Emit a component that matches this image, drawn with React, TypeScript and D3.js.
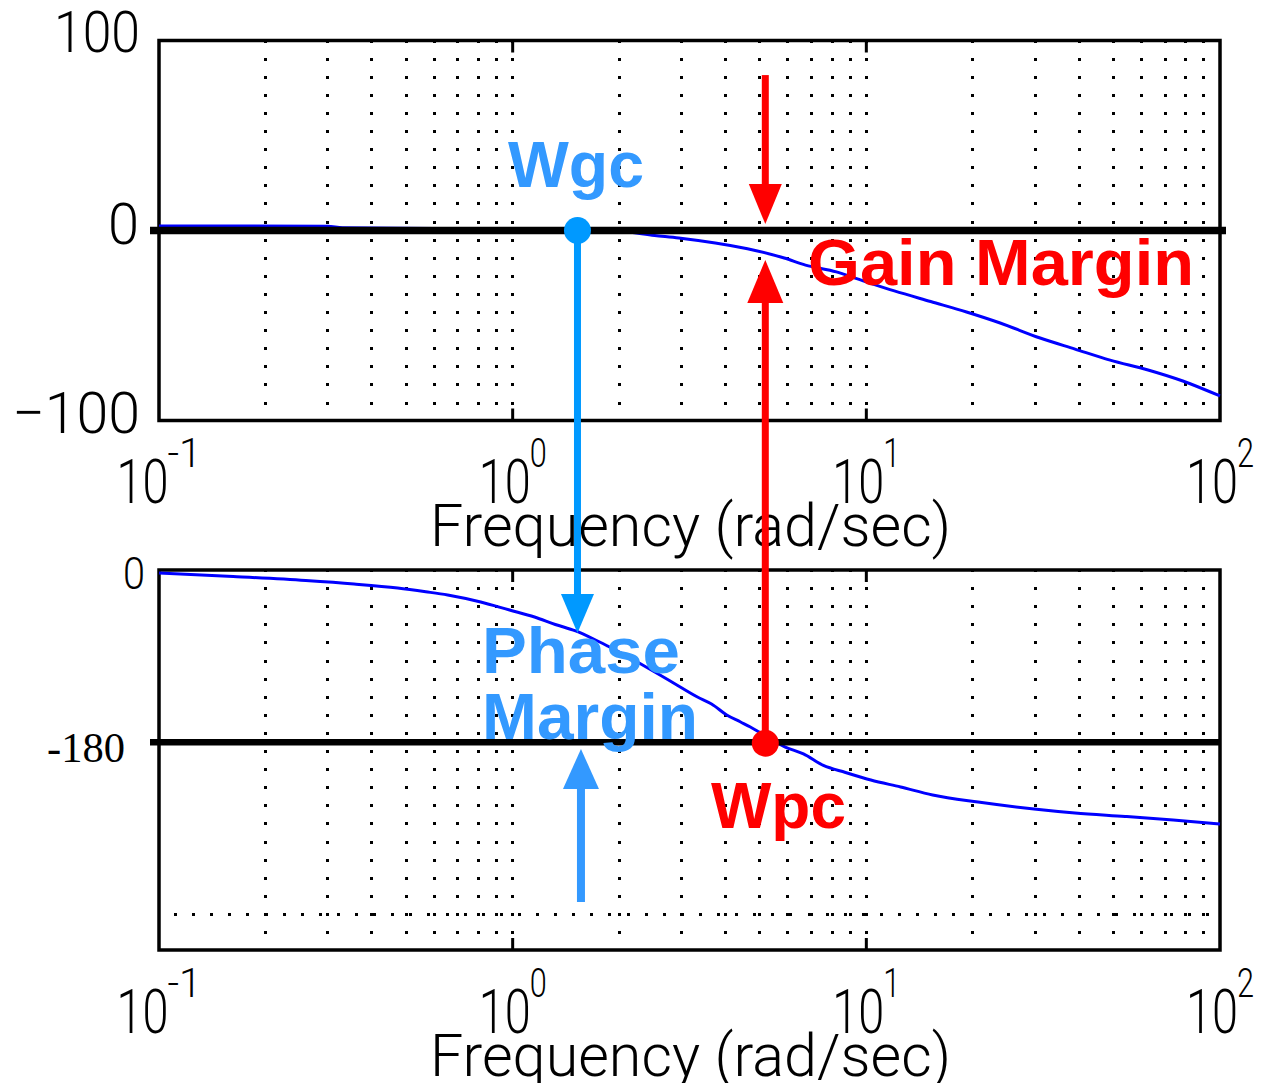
import React from 'react';
import * as d3 from 'd3';

// magnitude (rad/s -> dB)
const magFreq = [0.1, 0.3, 0.33, 0.6, 1.0, 1.53, 2.0, 2.52, 2.95, 3.74, 4.85, 5.86, 6.73, 8.23, 9.44, 12.0, 15.2, 19.2, 23.9, 31.0, 38.9, 48.9, 62.6, 78.5, 100];
const magDb = [2.4, 2.3, 1.4, 1.0, 0.5, 0, -0.4, -2.6, -3.9, -6.6, -10.5, -14.5, -18.2, -21.8, -25.5, -31.8, -37.4, -42.9, -48.7, -56.6, -62.4, -68.2, -73.4, -79.2, -87.1];

// phase (rad/s -> deg)
const phaseFreq = [0.1, 0.162, 0.26, 0.356, 0.473, 0.568, 0.655, 0.812, 0.98, 1.153, 1.32, 1.506, 1.693, 1.855, 2.1, 2.33, 2.58, 2.85, 3.33, 3.65, 4.03, 4.41, 4.7, 4.98, 5.9, 6.64, 7.56, 8.73, 10.3, 12.5, 15.4, 20.7, 29.8, 38.9, 53.9, 73.7, 100];
const phaseDeg = [-3.1, -6.8, -11.0, -14.6, -18.8, -22.7, -26.1, -33.4, -41.8, -49.1, -56.9, -63.7, -72.1, -79.4, -89.8, -99.2, -108.6, -118.0, -132.7, -140.0, -151.5, -158.8, -164.0, -169.3, -185.0, -192.2, -204.2, -211.5, -219.4, -226.7, -235.0, -242.4, -249.7, -253.9, -257.5, -261.2, -265.4];

const decades = [0.1, 1, 10, 100];
const decadeExp = ['-1', '0', '1', '2'];

// annotation values
const wgc = 1.525;          // gain crossover (rad/s)
const wpc = 5.18;           // phase crossover (rad/s)
const gmDownFrom = 81.8;    // dB
const gmDownTip = 3.4;      // dB
const gmUpTip = -15.5;      // dB
const pmDownTip = -65.8;    // deg
const pmUpFreq = 1.56;
const pmUpTip = -187;       // deg
const pmUpTail = -346.9;    // deg
const wpcDotDeg = -181;

const RED = '#ff0000';
const BLUE_DARK = '#0099ff';
const BLUE_LIGHT = '#3399ff';
const SANS = '"Liberation Sans", Arial, Helvetica, sans-serif';
const THIN = 'Roboto, "Liberation Sans", Arial, sans-serif';

const x = d3.scaleLog().domain([0.1, 100]).range([159, 1220]);
const yMag = d3.scaleLinear().domain([-100, 100]).range([420.5, 40.5]);
const yPh = d3.scaleLinear().domain([-397, 0]).range([950, 570]);

const gridX: number[] = [];
[0.1, 1, 10].forEach(b => {
  for (let m = 1; m <= 9; m++) {
    const v = m * b;
    if (v > 0.1 + 1e-9) gridX.push(v);
  }
});

function Arrow({ cx, tip, base, tail, width, headW, color }: { cx: number; tip: number; base: number; tail: number; width: number; headW: number; color: string }) {
  return (
    <g>
      <line x1={cx} x2={cx} y1={tail} y2={base} stroke={color} strokeWidth={width} />
      <polygon points={`${cx},${tip} ${cx - headW},${base} ${cx + headW},${base}`} fill={color} />
    </g>
  );
}

function XLabels({ baseline }: { baseline: number }) {
  return (
    <g fontFamily={THIN} fontWeight={300} fill="#000">
      {decades.map((d, i) => {
        const supW = decadeExp[i].length * 17;
        const left = x(d) - (51 + supW) / 2;
        return (
          <text key={d} x={left} y={baseline}>
            <tspan fontSize={61} textLength={52} lengthAdjust="spacingAndGlyphs">10</tspan>
            <tspan x={left + 51} dy={-36} fontSize={40} textLength={supW} lengthAdjust="spacingAndGlyphs">{decadeExp[i]}</tspan>
          </text>
        );
      })}
      <text x={430} y={baseline + 43} fontSize={60} textLength={521} lengthAdjust="spacingAndGlyphs">Frequency (rad/sec)</text>
    </g>
  );
}

export default function App() {
  const magLine = d3.line<number>()
    .x((_, i) => x(magFreq[i]))
    .y(d => yMag(d))
    .curve(d3.curveMonotoneX);
  const phLine = d3.line<number>()
    .x((_, i) => x(phaseFreq[i]))
    .y(d => yPh(d))
    .curve(d3.curveMonotoneX);

  const panels = [
    { top: yMag(100), bottom: yMag(-100) },
    { top: yPh(0), bottom: yPh(-397) },
  ];

  return (
    <div style={{ position: 'absolute', left: 0, top: 0 }}>
      <svg width={1264} height={1083} style={{ display: 'block', background: '#fff' }}>
        {/* dotted grid */}
        {panels.map((p, pi) => (
          <g key={pi} stroke="#000" strokeWidth={3} strokeDasharray="3 15.1" strokeDashoffset={1} shapeRendering="crispEdges">
            {gridX.map(g => (
              <line key={g} x1={x(g)} x2={x(g)} y1={p.top} y2={p.bottom} />
            ))}
          </g>
        ))}
        <line x1={x(0.1)} x2={x(100)} y1={yPh(-360)} y2={yPh(-360)} stroke="#000" strokeWidth={3}
          strokeDasharray="3 15.1" strokeDashoffset={-15} shapeRendering="crispEdges" />

        {/* decade ticks */}
        {panels.map((p, pi) => (
          <g key={'t' + pi} stroke="#000" strokeWidth={3}>
            {[1, 10].map(d => (
              <g key={d}>
                <line x1={x(d)} x2={x(d)} y1={p.top} y2={p.top + 12} />
                <line x1={x(d)} x2={x(d)} y1={p.bottom} y2={p.bottom - 12} />
              </g>
            ))}
          </g>
        ))}

        {/* frames */}
        {panels.map((p, pi) => (
          <rect key={'f' + pi} x={x(0.1)} y={p.top} width={x(100) - x(0.1)} height={p.bottom - p.top}
            fill="none" stroke="#000" strokeWidth={3.5} />
        ))}

        {/* response curves */}
        <path d={magLine(magDb) || ''} fill="none" stroke="#0000ff" strokeWidth={3} />
        <path d={phLine(phaseDeg) || ''} fill="none" stroke="#0000ff" strokeWidth={3} />

        {/* reference lines */}
        <line x1={150} x2={1226} y1={yMag(0)} y2={yMag(0)} stroke="#000" strokeWidth={7.5} />
        <line x1={150} x2={x(100)} y1={yPh(-180)} y2={yPh(-180)} stroke="#000" strokeWidth={6.5} />

        {/* y tick labels */}
        <g fontFamily={THIN} fontWeight={300} fill="#000">
          <text x={54} y={52} fontSize={58} textLength={86} lengthAdjust="spacingAndGlyphs">100</text>
          <text x={108} y={244} fontSize={58} textLength={31} lengthAdjust="spacingAndGlyphs">0</text>
          <text x={12} y={433} fontSize={58} textLength={128} lengthAdjust="spacingAndGlyphs">{'\u2212100'}</text>
          <text x={123} y={589} fontSize={44} textLength={22} lengthAdjust="spacingAndGlyphs">0</text>
        </g>
        <text x={47} y={762} fontSize={42} fontFamily='"Liberation Serif", "Times New Roman", serif' fill="#000"
          textLength={78} lengthAdjust="spacingAndGlyphs">-180</text>

        <XLabels baseline={503} />
        <XLabels baseline={1033} />

        {/* gain margin annotation (red) */}
        <Arrow cx={x(wpc)} tip={yMag(gmDownTip)} base={yMag(gmDownTip) - 40} tail={yMag(gmDownFrom)}
          width={7} headW={16.5} color={RED} />
        <Arrow cx={x(wpc)} tip={yMag(gmUpTip)} base={yMag(gmUpTip) + 43} tail={yPh(wpcDotDeg)}
          width={7} headW={18} color={RED} />
        <circle cx={x(wpc)} cy={yPh(wpcDotDeg)} r={13.5} fill={RED} />

        {/* phase margin annotation (blue) */}
        <Arrow cx={x(wgc)} tip={yPh(pmDownTip)} base={yPh(pmDownTip) - 39} tail={yMag(0)}
          width={7} headW={16.5} color={BLUE_DARK} />
        <circle cx={x(wgc)} cy={yMag(0)} r={13.5} fill={BLUE_DARK} />
        <Arrow cx={x(pmUpFreq)} tip={yPh(pmUpTip)} base={yPh(pmUpTip) + 40} tail={yPh(pmUpTail)}
          width={8} headW={18} color={BLUE_LIGHT} />

        {/* labels */}
        <g fontFamily={SANS} fontWeight="bold" fontSize={65}>
          <text x={508} y={187} fill={BLUE_LIGHT} textLength={136} lengthAdjust="spacingAndGlyphs">Wgc</text>
          <text x={808} y={285} fill={RED} textLength={386} lengthAdjust="spacingAndGlyphs">Gain Margin</text>
          <text x={482} y={673} fill={BLUE_LIGHT} textLength={198} lengthAdjust="spacingAndGlyphs">Phase</text>
          <text x={482} y={739} fill={BLUE_LIGHT} textLength={216} lengthAdjust="spacingAndGlyphs">Margin</text>
          <text x={711} y={828} fill={RED} textLength={135} lengthAdjust="spacingAndGlyphs">Wpc</text>
        </g>
      </svg>
    </div>
  );
}
